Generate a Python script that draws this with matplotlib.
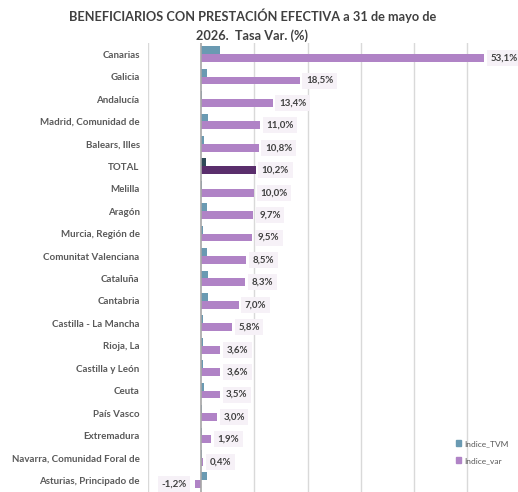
import matplotlib.pyplot as plt
import matplotlib.patches as mpatches
import numpy as np

# dane
regiones = ["Canarias", "Galicia", "Andalucía", "Madrid, Comunidad de", "Balears, Illes",
            "TOTAL", "Melilla", "Aragón", "Murcia, Región de", "Comunitat Valenciana",
            "Cataluña", "Cantabria", "Castilla - La Mancha", "Rioja, La", "Castilla y León",
            "Ceuta", "País Vasco", "Extremadura", "Navarra, Comunidad Foral de",
            "Asturias, Principado de"]
indice_var = [53.1, 18.5, 13.4, 11.0, 10.8, 10.2, 10.0, 9.7, 9.5, 8.5,
              8.3, 7.0, 5.8, 3.6, 3.6, 3.5, 3.0, 1.9, 0.4, -1.2]
indice_tvm = [3.5, 1.0, 0.1, 1.3, 0.6, 0.9, 0.05, 1.0, 0.4, 1.0,
              1.2, 1.2, 0.4, 0.4, 0.3, 0.5, 0.1, 0.1, 0.1, 1.0]

c_tvm = "#6A9AB2"
c_var = "#B083C6"
c_tvm_tot = "#2E4A57"
c_var_tot = "#5A2E6C"

plt.rcParams['font.family'] = ['Lato', 'DejaVu Sans']

fig = plt.figure(figsize=(5.18, 4.92), dpi=100)
ax = fig.add_axes([148 / 518, -4 / 492, 370 / 518, 453 / 492])

y = np.arange(len(regiones))
h = 0.35
col_tvm = [c_tvm_tot if r == "TOTAL" else c_tvm for r in regiones]
col_var = [c_var_tot if r == "TOTAL" else c_var for r in regiones]
ax.barh(y - h / 2, indice_tvm, height=h, color=col_tvm, zorder=3)
ax.barh(y + h / 2, indice_var, height=h, color=col_var, zorder=3)

# etykiety wartosci
for yi, v in zip(y, indice_var):
    txt = f"{v:.1f}%".replace(".", ",")
    off = 4.5 if v >= 0 else -6
    ax.annotate(txt, (v, yi + h / 2), xytext=(off, 0), textcoords="offset points",
                ha="left" if v >= 0 else "right", va="center", fontsize=7,
                fontweight="bold", color="#404040", zorder=4,
                bbox=dict(facecolor="#F6F1F7", edgecolor="none", pad=2.5))

ax.set_xlim(-10, 59.5)
ax.set_ylim(19.7, -0.5)
ax.set_xticks([-10, 10, 20, 30, 40, 50])
ax.xaxis.grid(True, color="#D9D9D9", lw=1, zorder=0)
ax.axvline(0, color="#A6A6A6", lw=1.2, zorder=4)
ax.tick_params(axis="x", length=0, labelbottom=False)
ax.set_yticks(y)
ax.set_yticklabels(regiones, fontsize=7, fontweight="bold", color="#595959")
ax.tick_params(axis="y", length=0, pad=6)
for s in ax.spines.values():
    s.set_visible(False)

fig.text(0.487, 0.968, "BENEFICIARIOS CON PRESTACIÓN EFECTIVA a 31 de mayo de",
         ha="center", va="center", fontsize=9.2, fontweight="bold", color="#404040")
fig.text(0.487, 0.928, "2026.  Tasa Var. (%)",
         ha="center", va="center", fontsize=9.2, fontweight="bold", color="#404040")

handles = [mpatches.Patch(color=c_tvm, label="Indice_TVM"),
           mpatches.Patch(color=c_var, label="Indice_var")]
fig.legend(handles=handles, loc="center left", bbox_to_anchor=(448 / 518, 1 - 452 / 492),
           frameon=False, fontsize=6, labelcolor="#595959", handlelength=0.7,
           handleheight=0.7, handletextpad=0.3, labelspacing=1.2)

fig.savefig("out.png", dpi=100)
